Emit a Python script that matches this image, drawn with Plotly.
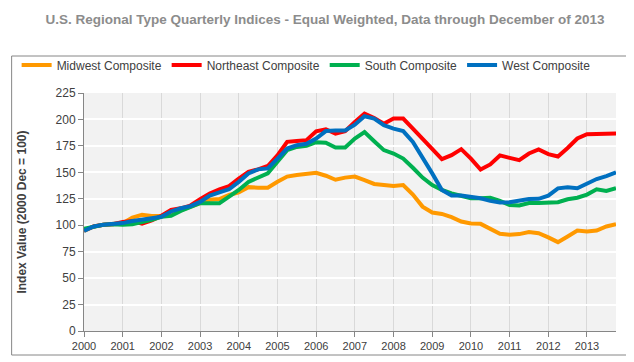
import plotly.graph_objects as go

years = list(range(2000, 2014))
quarters = [f"{y}Q{q}" for y in years for q in range(1, 5)]
tick_years = years

midwest = [94.7, 98.8, 100.4, 101, 102, 107.3, 109.8, 108.8, 108.8, 110.7, 114.5, 117.6,
           120.8, 124, 124.8, 128.6, 131, 136, 135.5, 135.5, 141, 146, 147.4, 148.4,
           149.6, 146.8, 143, 145, 146, 142.7, 139, 138, 137, 138, 129, 117.6,
           112, 110.7, 107.6, 103.5, 101.6, 101.3, 96.6, 92, 91, 91.6, 93.5, 92.5,
           88.5, 84, 89.4, 95, 94, 95, 98.8, 101]
northeast = [95, 98.8, 100.4, 101, 103, 104, 101.5, 104.5, 109, 114.5, 116, 118.6,
             124.5, 130, 134, 137, 144, 150.5, 152.8, 156, 166, 178.8, 179.7, 180.4,
             188.8, 190.7, 186.6, 188.8, 197.6, 205.5, 201.4, 196, 200.8, 200.8, 191.3, 182,
             172.5, 162.5, 166.2, 171.9, 163, 152.7, 157.5, 166, 163.7, 161.5, 167.8, 171.6,
             167.2, 165, 173, 182, 186, 186, 186, 186.6]
south = [96.6, 98.8, 100.4, 101, 100.4, 101, 102.6, 105, 108, 108.8, 113.5, 117.6,
         120.8, 120.8, 120.8, 127, 133.3, 141, 145, 149, 160, 171, 174, 175,
         178.5, 178, 173.5, 173.5, 182, 188, 179.4, 171, 167.8, 163, 154.3, 145,
         138, 133.3, 130, 128, 125.5, 125.5, 126, 123, 119.2, 118.6, 121, 121,
         121, 121.7, 124.5, 126, 129, 134, 132.4, 135]
west = [94.7, 98.8, 100.4, 101, 102, 104, 105.7, 106.6, 108, 113, 116, 118,
        122, 128, 131, 134, 141, 149, 152.8, 153.7, 163, 172.5, 175.7, 177,
        182, 189, 189.5, 189.5, 195, 203, 200.8, 194.5, 191.3, 189, 178.8, 164.7,
        149, 133.3, 128, 128, 127, 125.5, 123, 121.4, 121.7, 123, 124.8, 125,
        128, 134.9, 135.8, 134.9, 139.6, 143.7, 146.5, 150]

series = [
    ("Midwest Composite", midwest, "#FF9900"),
    ("Northeast Composite", northeast, "#FF0000"),
    ("South Composite", south, "#00B050"),
    ("West Composite", west, "#0070C0"),
]

x_vals = [int(q[:4]) + (int(q[-1]) - 1) / 4 for q in quarters]

fig = go.Figure()
for name, vals, color in series:
    fig.add_trace(go.Scatter(x=x_vals, y=vals, mode="lines", name=name,
                             line=dict(color=color, width=4)))

font_family = "Liberation Sans, Arial, sans-serif"
l, r, t, b = 75.5, 25.5, 85, 39
pw = 634 - l - r
ph = 362 - t - b

fig.update_layout(
    width=634, height=362,
    margin=dict(l=l, r=r, t=t, b=b, autoexpand=False),
    paper_bgcolor="white",
    plot_bgcolor="#F2F2F2",
    font=dict(family=font_family, size=12, color="#404040"),
    title=dict(text="<b>U.S. Regional Type Quarterly Indices - Equal Weighted, Data through December of 2013</b>",
               x=0.5, xref="container", xanchor="center", y=1 - 11 / 362, yref="container",
               yanchor="middle",
               font=dict(family=font_family, size=13.5, color="#8C8C8C")),
    showlegend=True,
    legend=dict(orientation="h", x=(8 - l) / pw, xanchor="left",
                y=(323 - 57) / ph, yanchor="middle",
                font=dict(family=font_family, size=12, color="#404040"),
                bgcolor="rgba(0,0,0,0)", itemwidth=30, tracegroupgap=0),
    xaxis=dict(range=[2000, 2013.75], tickmode="array", tickvals=tick_years,
               ticktext=[str(y) for y in tick_years],
               showgrid=True, gridcolor="#D9D9D9", gridwidth=1,
               showline=True, linecolor="#868686", linewidth=1,
               ticks="outside", ticklen=5, tickcolor="#868686",
               tickfont=dict(size=11), automargin=False,
               zeroline=False, fixedrange=True),
    yaxis=dict(range=[0, 225], dtick=25, tick0=0,
               showgrid=True, gridcolor="white", gridwidth=1.5,
               showline=True, linecolor="#868686", linewidth=1,
               ticks="outside", ticklen=5, tickcolor="#868686",
               tickfont=dict(size=12), automargin=False,
               zeroline=False, fixedrange=True),
    annotations=[dict(text="<b>Index Value (2000 Dec = 100)</b>", textangle=-90,
                      xref="paper", yref="paper", x=(13 - l) / pw, y=0.5,
                      xanchor="center", yanchor="middle", showarrow=False,
                      font=dict(family=font_family, size=12, color="#404040"))],
    shapes=[dict(type="rect", xref="paper", yref="paper",
                 x0=(3 - l) / pw, x1=(630 - l) / pw,
                 y0=(323 - 347) / ph, y1=(323 - 48) / ph,
                 line=dict(color="#868686", width=1), fillcolor="rgba(0,0,0,0)",
                 layer="below")],
)

fig.write_html("out.html")
